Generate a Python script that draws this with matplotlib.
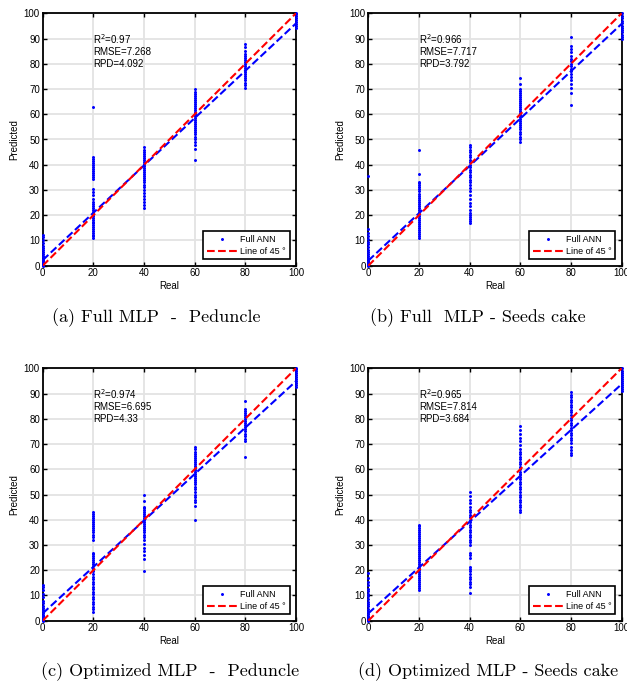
import matplotlib
matplotlib.use("Agg")
from matplotlib import pyplot as plt

levels = [0, 20, 40, 60, 80, 100]

# predicted values for each real level, one list per level, per panel
pred_a = [
    [0, 0.2, 0.4, 0.6, 0.9, 1.2, 1.5, 1.9, 2.3, 2.8, 3.3, 3.9, 4.6, 5.4, 6.2, 7.1, 8.0, 9.0, 10.1, 11.2, 12.0],
    [11.0, 11.6, 12.3, 13.0, 13.8, 14.5, 15.3, 16.0, 16.8, 17.5, 18.3, 19.0, 19.8, 20.5, 21.3, 22.0, 22.8,
     23.6, 24.5, 25.4, 26.5, 28.0, 29.3, 30.4, 34.2, 35.0, 35.8, 36.6, 37.4, 38.2, 39.0, 39.8, 40.6, 41.4,
     42.2, 43.0, 63.0],
    [23.0, 24.0, 25.2, 26.5, 27.8, 29.0, 30.0, 31.0, 32.0, 33.0, 33.8, 34.6, 35.4, 36.2, 37.0, 37.8, 38.6,
     39.4, 40.2, 41.0, 41.8, 42.6, 43.4, 44.2, 45.0, 45.8, 47.0],
    [42.0, 46.2, 48.0, 49.0, 50.0, 51.0, 52.0, 53.0, 53.8, 54.6, 55.4, 56.2, 57.0, 57.8, 58.6, 59.4, 60.2,
     61.0, 61.8, 62.6, 63.4, 64.2, 65.0, 65.8, 66.6, 67.4, 68.2, 69.0, 70.0],
    [70.5, 71.5, 72.5, 73.4, 74.2, 75.0, 75.8, 76.6, 77.4, 78.2, 79.0, 79.8, 80.6, 81.4, 82.2, 83.0, 84.0,
     85.0, 86.5, 88.0],
    [94.0, 94.8, 95.6, 96.4, 97.2, 98.0, 98.8, 99.6, 100.0],
]
pred_b = [
    [0, 0.3, 0.6, 1.0, 1.4, 1.9, 2.5, 3.1, 3.8, 4.6, 5.5, 6.4, 7.4, 8.4, 9.5, 10.6, 11.8, 13.0, 14.5, 35.5],
    [11.0, 11.8, 12.6, 13.4, 14.2, 15.0, 15.8, 16.6, 17.4, 18.2, 19.0, 19.8, 20.6, 21.4, 22.2, 23.0, 23.8,
     24.6, 25.4, 26.2, 27.0, 27.8, 28.6, 29.4, 30.2, 31.0, 31.8, 32.6, 33.2, 36.5, 46.0],
    [17.0, 17.8, 18.6, 19.4, 20.2, 21.0, 22.0, 23.5, 25.0, 26.5, 28.0, 29.5, 30.8, 32.0, 33.0, 34.0, 35.0,
     36.0, 37.0, 38.0, 39.0, 40.0, 41.0, 42.0, 43.0, 44.0, 45.0, 46.0, 47.0, 48.0],
    [49.0, 50.0, 51.0, 52.0, 53.0, 54.0, 55.0, 55.8, 56.6, 57.4, 58.2, 59.0, 59.8, 60.6, 61.4, 62.2, 63.0,
     63.8, 64.6, 65.4, 66.2, 67.0, 67.8, 68.6, 69.4, 70.2, 72.0, 74.5],
    [63.5, 68.5, 70.5, 72.0, 73.5, 74.8, 76.0, 77.0, 78.0, 79.0, 80.0, 81.0, 82.0, 83.2, 84.5, 86.0, 87.0,
     90.5],
    [90.0, 90.8, 91.6, 92.4, 93.2, 94.0, 95.0, 96.0, 97.0, 98.0, 99.0, 100.0],
]
pred_c = [
    [0, 0.3, 0.6, 1.0, 1.4, 1.9, 2.4, 3.0, 3.7, 4.4, 5.2, 6.0, 7.0, 8.0, 9.2, 10.5, 12.0, 13.2, 14.0],
    [3.5, 4.5, 5.5, 6.5, 7.5, 8.5, 9.5, 10.5, 11.5, 12.5, 13.5, 14.5, 15.5, 16.5, 17.5, 18.5, 19.5, 20.5,
     21.5, 22.3, 23.1, 23.9, 24.7, 25.5, 26.3, 27.0, 32.0, 33.0, 34.0, 35.0, 35.8, 36.6, 37.4, 38.2, 39.0,
     39.8, 40.6, 41.4, 42.2, 43.0],
    [19.5, 24.5, 26.0, 27.5, 29.0, 30.5, 32.0, 33.0, 34.0, 35.0, 35.8, 36.6, 37.4, 38.2, 39.0, 39.8, 40.6,
     41.4, 42.2, 43.0, 43.8, 44.6, 45.0, 47.5, 50.0],
    [40.0, 45.5, 47.0, 48.0, 49.0, 50.0, 51.0, 52.0, 53.0, 54.0, 55.0, 55.8, 56.6, 57.4, 58.2, 59.0, 59.8,
     60.6, 61.4, 62.2, 63.0, 63.8, 64.6, 65.4, 66.2, 67.0, 68.0, 69.0],
    [65.0, 71.0, 72.0, 73.0, 74.0, 75.0, 75.8, 76.6, 77.4, 78.2, 79.0, 79.8, 80.6, 81.4, 82.2, 83.0, 84.0,
     87.0],
    [92.5, 93.3, 94.1, 94.9, 95.7, 96.5, 97.3, 98.1, 98.9, 99.7, 100.0],
]
pred_d = [
    [0, 0.3, 0.6, 1.0, 1.5, 2.0, 2.6, 3.3, 4.0, 4.8, 5.7, 6.6, 7.6, 8.6, 9.6, 10.6, 11.6, 12.6, 14.0, 15.5,
     17.0, 19.0],
    [12.0, 12.8, 13.6, 14.4, 15.2, 16.0, 16.8, 17.6, 18.4, 19.2, 20.0, 20.8, 21.6, 22.4, 23.2, 24.0, 24.8,
     25.6, 26.4, 27.2, 28.0, 28.8, 29.6, 30.4, 31.2, 32.0, 32.8, 33.6, 34.4, 35.2, 36.0, 36.8, 37.6, 38.0],
    [11.0, 13.5, 14.5, 15.5, 16.5, 17.5, 18.5, 19.5, 20.5, 21.2, 25.0, 26.0, 27.0, 30.0, 31.0, 32.0, 33.0,
     34.0, 35.0, 36.0, 37.0, 38.0, 39.0, 40.0, 41.0, 42.0, 43.0, 44.0, 45.0, 46.5, 48.0, 49.5, 51.0],
    [43.0, 44.0, 45.0, 46.0, 47.0, 48.0, 49.0, 50.0, 51.0, 52.0, 53.0, 54.0, 55.0, 56.0, 57.0, 58.0, 59.0,
     60.0, 61.0, 62.0, 63.0, 64.0, 65.0, 66.0, 67.0, 68.0, 69.5, 71.0, 72.5, 74.0, 75.5, 77.0],
    [65.5, 66.5, 67.5, 69.0, 70.5, 71.5, 72.5, 73.5, 74.5, 75.5, 76.5, 77.5, 78.5, 79.5, 80.5, 81.5, 82.5,
     83.5, 84.5, 85.5, 86.5, 87.5, 88.5, 89.5, 90.5],
    [91.0, 91.8, 92.6, 93.4, 94.2, 95.0, 95.8, 96.6, 97.4, 98.2, 99.0, 100.0],
]

# fitted line (intercept, slope)
fits = [(2.2, 0.938), (2.0, 0.938), (2.9, 0.92), (2.9, 0.908)]
stats = [("0.97", "7.268", "4.092"), ("0.966", "7.717", "3.792"),
         ("0.974", "6.695", "4.33"), ("0.965", "7.814", "3.684")]
captions = ["(a) Full MLP  -  Peduncle", "(b) Full  MLP - Seeds cake",
            "(c) Optimized MLP  -  Peduncle", "(d) Optimized MLP - Seeds cake"]
panels = [pred_a, pred_b, pred_c, pred_d]

plt.rcParams["font.family"] = ["Liberation Sans", "DejaVu Sans"]

fig = plt.figure(figsize=(6.27, 6.84), dpi=100)
W, H = 627, 684
boxes = [(42.7, 13.3), (368.3, 13.3), (42.7, 368.3), (368.3, 368.3)]
aw, ah = 253.3, 252.4
cap_pos = [(52, 318), (370, 318), (41, 672), (358, 672)]

for i in range(4):
    left, top = boxes[i]
    ax = fig.add_axes([left / W, 1 - (top + ah) / H, aw / W, ah / H])
    xs, ys = [], []
    for lev, vals in zip(levels, panels[i]):
        xs += [lev] * len(vals)
        ys += vals
    ax.plot(xs, ys, ".", color="blue", markersize=2.3, label="Full ANN", zorder=3, clip_on=False)
    b, m = fits[i]
    ax.plot([0, 100], [b, b + m * 100], "--", color="blue", linewidth=1.5, zorder=4)
    ax.plot([0, 100], [0, 100], "--", color="red", linewidth=1.5, label="Line of 45 °", zorder=5)
    ax.set_xlim(0, 100)
    ax.set_ylim(0, 100)
    ax.set_xticks(range(0, 101, 20))
    ax.set_yticks(range(0, 101, 10))
    ax.grid(True, color="#e3e3e3", linewidth=1.3)
    ax.set_axisbelow(True)
    ax.tick_params(direction="in", length=3, labelsize=7, width=1, top=True, right=True, pad=2)
    for s in ax.spines.values():
        s.set_linewidth(1.3)
    ax.set_xlabel("Real", fontsize=7, labelpad=2)
    ax.set_ylabel("Predicted", fontsize=7, labelpad=3)
    r2, rmse, rpd = stats[i]
    ax.text(20, 88, "R$^2$=" + r2, fontsize=7, va="baseline")
    ax.text(20, 83.3, "RMSE=" + rmse, fontsize=7, va="baseline")
    ax.text(20, 78.6, "RPD=" + rpd, fontsize=7, va="baseline")
    leg = ax.legend(loc="lower right", fontsize=6.5, handlelength=3.4, borderaxespad=0.7,
                    fancybox=False, framealpha=1, edgecolor="black", borderpad=0.4,
                    labelspacing=0.3, handletextpad=0.3, markerscale=1)
    leg.get_frame().set_linewidth(1.2)
    cx, cy = cap_pos[i]
    fig.text(cx / W, 1 - cy / H, captions[i], fontsize=13, family="cmr10",
             ha="left", va="center")

fig.savefig("out.png", dpi=100)
